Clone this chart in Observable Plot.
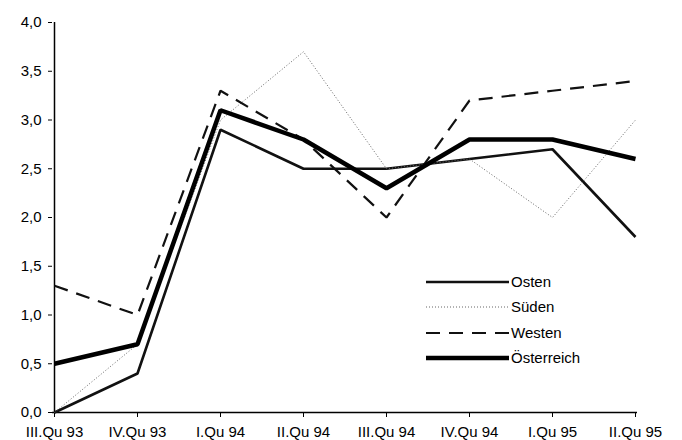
<!DOCTYPE html>
<html><head><meta charset="utf-8">
<script src="https://cdn.jsdelivr.net/npm/d3@7"></script>
<script src="https://cdn.jsdelivr.net/npm/@observablehq/plot@0.6"></script>
<style>
body{margin:0;background:#fff;font-family:"Liberation Sans",Arial,sans-serif}
#wrap{position:relative;width:682px;height:440px}
#legend{position:absolute;left:0;top:0;pointer-events:none}
</style></head><body><div id="wrap"></div>
<script>
const quarters = ["III.Qu 93","IV.Qu 93","I.Qu 94","II.Qu 94","III.Qu 94","IV.Qu 94","I.Qu 95","II.Qu 95"];
const osten       = [0.0, 0.4, 2.9, 2.5, 2.5, 2.6, 2.7, 1.8];
const sueden      = [0.0, 0.7, 3.0, 3.7, 2.5, 2.6, 2.0, 3.0];
const westen      = [1.3, 1.0, 3.3, 2.8, 2.0, 3.2, 3.3, 3.4];
const oesterreich = [0.5, 0.7, 3.1, 2.8, 2.3, 2.8, 2.8, 2.6];
const seriesNames = ["Osten", "Süden", "Westen", "Österreich"];
const yTicks = [0, 0.5, 1, 1.5, 2, 2.5, 3, 3.5, 4];

const seriesValues = [osten, sueden, westen, oesterreich];
const styles = {
  "Osten":      {stroke: "#111", strokeWidth: 2.6, strokeDasharray: null},
  "Süden":      {stroke: "#666", strokeWidth: 1, strokeDasharray: "1,2"},
  "Westen":     {stroke: "#111", strokeWidth: 2.2, strokeDasharray: "14,9"},
  "Österreich": {stroke: "#000", strokeWidth: 4.5, strokeDasharray: null}
};
const rows = seriesNames.flatMap((s, i) => quarters.map((q, j) => ({series: s, quarter: q, value: seriesValues[i][j]})));
const fmt = v => v.toFixed(1).replace(".", ",");

const lineMarks = seriesNames.map(s => Plot.line(rows.filter(r => r.series === s), {
  x: "quarter", y: "value",
  stroke: styles[s].stroke, strokeWidth: styles[s].strokeWidth,
  strokeDasharray: styles[s].strokeDasharray, strokeLinejoin: "miter", strokeLinecap: "butt"
}));

const chart = Plot.plot({
  width: 682, height: 440,
  marginLeft: 52, marginRight: 45, marginTop: 22, marginBottom: 28,
  style: {fontFamily: "'Liberation Sans', Arial, sans-serif", fontSize: "14px", color: "#000", background: "#fff"},
  x: {type: "point", domain: quarters, padding: 0, label: null},
  y: {domain: [0, 4], label: null},
  marks: [
    Plot.axisY({ticks: yTicks, tickFormat: fmt, tickSize: 4, tickPadding: 7, fontSize: 15, stroke: "#000"}),
    Plot.axisX({tickSize: 5, tickPadding: 9, fontSize: 15, stroke: "#000"}),
    Plot.ruleX([quarters[0]], {y1: 0, y2: 4, stroke: "#000", strokeWidth: 1.5}),
    Plot.ruleY([0], {stroke: "#000", strokeWidth: 1.5}),
    ...lineMarks
  ]
});
document.getElementById("wrap").appendChild(chart);

// legend overlay
const legendTop = [282, 307, 333, 358];
const lg = d3.select("#wrap").append("svg").attr("id", "legend").attr("width", 682).attr("height", 440);
seriesNames.forEach((s, i) => {
  const st = styles[s];
  const l = lg.append("line").attr("x1", 426).attr("x2", 509).attr("y1", legendTop[i]).attr("y2", legendTop[i])
    .attr("stroke", st.stroke).attr("stroke-width", st.strokeWidth);
  if (st.strokeDasharray) l.attr("stroke-dasharray", st.strokeDasharray);
  lg.append("text").attr("x", 511).attr("y", legendTop[i]).attr("dy", "0.36em")
    .attr("font-family", "'Liberation Sans', Arial, sans-serif").attr("font-size", 15).text(s);
});
</script></body></html>
